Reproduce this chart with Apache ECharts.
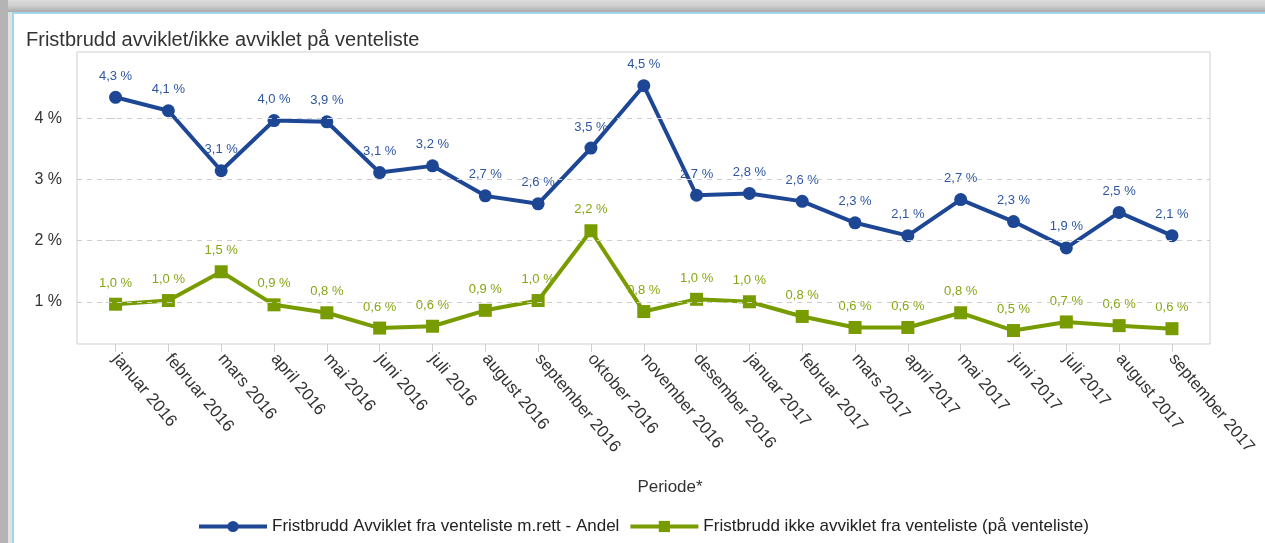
<!DOCTYPE html>
<html>
<head>
<meta charset="utf-8">
<script src="https://cdn.jsdelivr.net/npm/echarts@6/dist/echarts.min.js"></script>
<style>
  html, body { margin: 0; padding: 0; width: 1265px; height: 543px; overflow: hidden; background: #fff; }
  #topbar { position: absolute; left: 0; top: 0; width: 1265px; height: 12px; background: linear-gradient(#dcdcdc, #cfcfcf 50%, #a9a9a9); }
  #leftbar { position: absolute; left: 0; top: 0; width: 8px; height: 543px; background: #b4b4b4; }
  #leftbar2 { position: absolute; left: 8px; top: 12px; width: 4px; height: 531px; background: #e2e2e2; }
  #panel { position: absolute; left: 12px; top: 12px; width: 1253px; height: 531px; border-left: 2px solid #a3d5ee; border-top: 2px solid #a3d5ee; box-sizing: border-box; background: #fff; }
  #chart { position: absolute; left: 0; top: 0; width: 1265px; height: 543px; }
</style>
</head>
<body>
<div id="topbar"></div>
<div id="leftbar"></div>
<div id="leftbar2"></div>
<div id="panel"></div>
<div id="chart"></div>
<script>
const categories = [
  'januar 2016', 'februar 2016', 'mars 2016', 'april 2016', 'mai 2016', 'juni 2016',
  'juli 2016', 'august 2016', 'september 2016', 'oktober 2016', 'november 2016', 'desember 2016',
  'januar 2017', 'februar 2017', 'mars 2017', 'april 2017', 'mai 2017', 'juni 2017',
  'juli 2017', 'august 2017', 'september 2017'
];
const avvikletValues = [4.34, 4.12, 3.14, 3.96, 3.94, 3.11, 3.22, 2.73, 2.60, 3.51, 4.53, 2.74,
  2.77, 2.64, 2.29, 2.08, 2.67, 2.31, 1.88, 2.46, 2.08];
const ikkeAvvikletValues = [0.96, 1.02, 1.49, 0.95, 0.82, 0.57, 0.60, 0.86, 1.02, 2.16, 0.84, 1.04,
  1.00, 0.76, 0.58, 0.58, 0.82, 0.53, 0.67, 0.61, 0.56];
const yTickValues = [1, 2, 3, 4];
const seriesNames = [
  'Fristbrudd Avviklet fra venteliste m.rett - Andel',
  'Fristbrudd ikke avviklet fra venteliste (på venteliste)'
];
const titleText = 'Fristbrudd avviklet/ikke avviklet på venteliste';
const xAxisTitle = 'Periode*';

const BLUE = '#1d4795';
const BLUE_LABEL = '#2d55a3';
const GREEN = '#789c00';
const GREEN_LABEL = '#86a614';
const FONT = '"Liberation Sans", Arial, sans-serif';

const idx = categories.map((c, i) => i);
const fmtPct = p => p.value[1].toFixed(1).replace('.', ',') + ' %';

const chart = echarts.init(document.getElementById('chart'), null, { renderer: 'canvas' });
chart.setOption({
  animation: false,
  backgroundColor: 'transparent',
  textStyle: { fontFamily: FONT },
  title: {
    text: titleText,
    left: 21, top: 25,
    textStyle: { fontFamily: FONT, fontSize: 20, fontWeight: 'normal', color: '#333' }
  },
  graphic: [{
    type: 'text',
    x: 670, y: 479,
    style: { text: xAxisTitle, font: '17px ' + FONT, fill: '#333', textAlign: 'center' }
  }],
  legend: {
    data: seriesNames,
    left: 192, top: 513,
    itemWidth: 68, itemHeight: 14, itemGap: 9,
    lineStyle: { width: 4 },
    textStyle: { fontFamily: FONT, fontSize: 17, color: '#222' }
  },
  grid: {
    left: 77, right: 55, top: 52, bottom: 199,
    show: true, borderColor: '#cfcfcf', borderWidth: 1, backgroundColor: 'transparent',
    containLabel: false
  },
  xAxis: {
    type: 'value',
    min: -0.73, max: 20.72,
    splitLine: { show: false },
    axisLine: { show: false },
    axisTick: { show: true, customValues: idx, length: 8, lineStyle: { color: '#cfcfcf' } },
    axisLabel: {
      customValues: idx,
      formatter: v => categories[Math.round(v)],
      rotate: -50, margin: 12,
      fontFamily: FONT, fontSize: 17, color: '#333'
    }
  },
  yAxis: {
    type: 'value',
    min: 0.31, max: 5.08,
    splitLine: { show: false },
    axisLine: { show: false },
    axisTick: { show: true, customValues: yTickValues, length: 10, lineStyle: { color: '#cfcfcf' } },
    axisLabel: {
      customValues: yTickValues,
      formatter: v => v + ' %',
      margin: 15,
      fontFamily: FONT, fontSize: 16, color: '#333'
    }
  },
  series: [
    {
      name: 'grid',
      type: 'line',
      data: [],
      z: 1,
      silent: true,
      markLine: {
        silent: true,
        symbol: 'none',
        label: { show: false },
        lineStyle: { color: '#cdcdcd', width: 1, type: [5, 5] },
        data: yTickValues.map(v => ({ yAxis: v }))
      }
    },
    {
      name: seriesNames[0],
      type: 'line',
      z: 3,
      data: categories.map((c, i) => [i, avvikletValues[i]]),
      symbol: 'circle', symbolSize: 13,
      lineStyle: { color: BLUE, width: 4 },
      itemStyle: { color: BLUE },
      label: { show: true, position: 'top', distance: 8, formatter: fmtPct,
        fontFamily: FONT, fontSize: 13, color: BLUE_LABEL }
    },
    {
      name: seriesNames[1],
      type: 'line',
      z: 3,
      data: categories.map((c, i) => [i, ikkeAvvikletValues[i]]),
      symbol: 'rect', symbolSize: 13,
      lineStyle: { color: GREEN, width: 4 },
      itemStyle: { color: GREEN },
      label: { show: true, position: 'top', distance: 8, formatter: fmtPct,
        fontFamily: FONT, fontSize: 13, color: GREEN_LABEL }
    }
  ]
});
</script>
</body>
</html>
